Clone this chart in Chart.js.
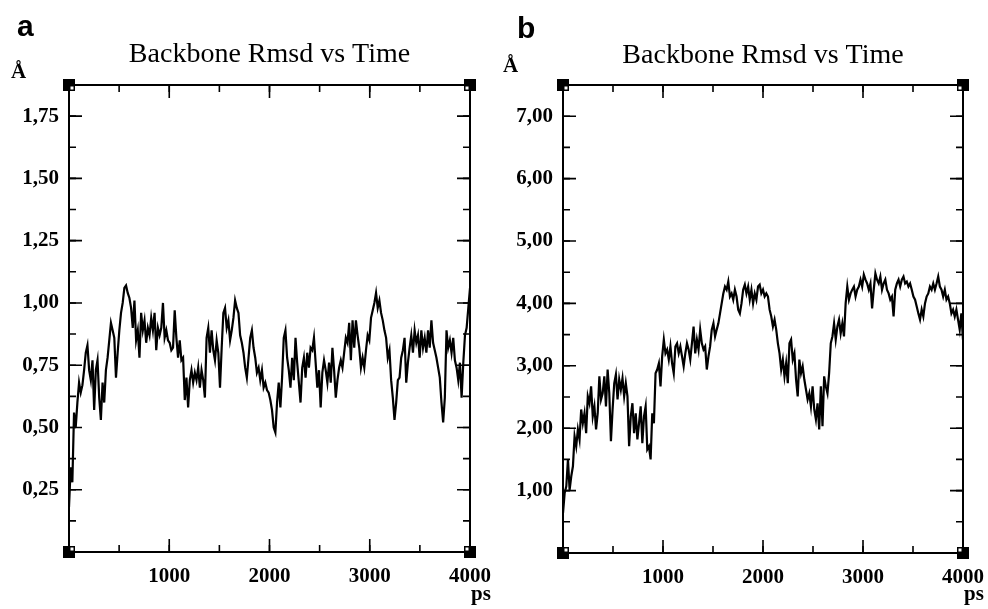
<!DOCTYPE html>
<html>
<head>
<meta charset="utf-8">
<script src="https://cdn.jsdelivr.net/npm/chart.js@4.4.0/dist/chart.umd.min.js"></script>
<style>
  body { margin: 0; background: #fff; }
  .panel { position: absolute; top: 0; width: 494px; height: 609px; }
</style>
</head>
<body>
<div class="panel" style="left:0"><canvas id="chart-a" width="494" height="609"></canvas></div>
<div class="panel" style="left:494px"><canvas id="chart-b" width="494" height="609"></canvas></div>
<script>
const rmsdA = [0.18, 0.34, 0.28, 0.56, 0.50, 0.60, 0.68, 0.64,
  0.67, 0.73, 0.80, 0.83, 0.73, 0.69, 0.77, 0.57, 0.73, 0.77,
  0.62, 0.53, 0.68, 0.60, 0.73, 0.78, 0.85, 0.92, 0.89, 0.86,
  0.70, 0.80, 0.89, 0.96, 1.00, 1.06, 1.07, 1.04, 1.02, 0.98,
  0.90, 1.01, 0.85, 0.89, 0.78, 0.96, 0.89, 0.93, 0.84, 0.90,
  0.87, 0.94, 0.89, 0.96, 0.81, 0.90, 0.87, 0.90, 1.00, 0.86,
  0.89, 0.85, 0.84, 0.81, 0.82, 0.97, 0.86, 0.78, 0.85, 0.77,
  0.78, 0.61, 0.70, 0.58, 0.69, 0.73, 0.68, 0.72, 0.69, 0.74,
  0.66, 0.73, 0.69, 0.62, 0.86, 0.90, 0.80, 0.89, 0.81, 0.77,
  0.85, 0.80, 0.66, 0.82, 0.96, 0.98, 0.90, 0.93, 0.85, 0.89,
  0.94, 1.01, 0.98, 0.96, 0.87, 0.84, 0.80, 0.74, 0.70, 0.78,
  0.86, 0.89, 0.82, 0.78, 0.72, 0.74, 0.69, 0.73, 0.66, 0.68,
  0.65, 0.64, 0.61, 0.57, 0.50, 0.48, 0.60, 0.68, 0.58, 0.70,
  0.86, 0.89, 0.78, 0.73, 0.66, 0.78, 0.69, 0.86, 0.76, 0.68,
  0.60, 0.74, 0.78, 0.70, 0.80, 0.74, 0.82, 0.81, 0.86, 0.76,
  0.66, 0.73, 0.58, 0.72, 0.77, 0.73, 0.68, 0.76, 0.68, 0.82,
  0.73, 0.62, 0.69, 0.74, 0.77, 0.74, 0.80, 0.86, 0.84, 0.92,
  0.77, 0.93, 0.82, 0.93, 0.87, 0.82, 0.74, 0.78, 0.74, 0.81,
  0.87, 0.85, 0.94, 0.97, 1.00, 1.04, 0.98, 1.01, 0.96, 0.93,
  0.89, 0.86, 0.78, 0.81, 0.69, 0.62, 0.53, 0.60, 0.69, 0.70,
  0.78, 0.81, 0.86, 0.68, 0.76, 0.82, 0.87, 0.80, 0.89, 0.84,
  0.87, 0.78, 0.89, 0.82, 0.86, 0.80, 0.89, 0.82, 0.93, 0.84,
  0.81, 0.78, 0.74, 0.70, 0.60, 0.52, 0.62, 0.89, 0.82, 0.85,
  0.80, 0.86, 0.77, 0.74, 0.69, 0.76, 0.62, 0.76, 0.87, 0.90,
  0.98, 1.06];

const rmsdB = [0.64, 0.96, 1.07, 1.50, 1.01, 1.23, 1.39, 1.87, 1.71, 1.98, 1.82,
  2.30, 2.08, 2.24, 1.92, 2.51, 2.40, 2.67, 2.19, 2.35, 1.98,
  2.24, 2.83, 2.46, 2.56, 2.83, 2.35, 2.94, 2.56, 1.79, 2.30,
  2.72, 2.86, 2.46, 2.78, 2.62, 2.80, 2.51, 2.72, 2.51, 1.71,
  2.19, 2.40, 1.92, 2.24, 1.82, 2.08, 2.35, 1.76, 2.19, 2.35,
  1.66, 1.71, 1.50, 2.24, 2.08, 2.88, 2.94, 3.04, 2.67, 3.15,
  3.42, 3.20, 3.26, 3.10, 3.31, 3.04, 2.88, 3.31, 3.36, 3.20,
  3.31, 3.15, 2.99, 3.20, 3.36, 3.26, 3.10, 3.36, 3.63, 3.20,
  3.42, 3.26, 3.58, 3.36, 3.26, 3.31, 2.94, 3.15, 3.31, 3.58,
  3.68, 3.47, 3.58, 3.68, 3.84, 4.00, 4.16, 4.27, 4.22, 4.35,
  4.11, 4.16, 4.06, 4.22, 4.11, 3.90, 3.84, 4.00, 4.22, 4.30,
  4.16, 4.27, 4.06, 4.22, 4.00, 4.16, 4.06, 4.27, 4.30, 4.16,
  4.22, 4.11, 4.16, 4.11, 3.90, 3.79, 3.63, 3.74, 3.58, 3.36,
  3.20, 2.94, 3.10, 2.83, 3.04, 2.72, 3.36, 3.42, 3.10, 3.20,
  2.78, 2.51, 3.10, 2.88, 2.99, 2.78, 2.62, 2.46, 2.56, 2.35,
  2.67, 2.30, 2.14, 2.40, 1.98, 2.67, 2.03, 2.83, 2.67, 2.56,
  2.88, 3.36, 3.47, 3.68, 3.42, 3.63, 3.74, 3.52, 3.68, 3.47,
  4.00, 4.27, 4.06, 4.16, 4.22, 4.27, 4.11, 4.22, 4.27, 4.38,
  4.27, 4.46, 4.38, 4.32, 4.22, 4.32, 3.92, 4.22, 4.48, 4.38,
  4.32, 4.43, 4.22, 4.32, 4.38, 4.22, 4.16, 4.06, 4.11, 3.79,
  4.22, 4.32, 4.38, 4.27, 4.38, 4.43, 4.32, 4.35, 4.27, 4.32,
  4.22, 4.11, 4.06, 3.95, 3.84, 3.74, 3.90, 3.79, 4.00, 4.11,
  4.16, 4.27, 4.22, 4.32, 4.22, 4.32, 4.43, 4.27, 4.22, 4.11,
  4.22, 4.06, 4.11, 4.00, 3.84, 3.90, 3.79, 3.90, 3.74, 3.58,
  3.84, 3.42];

// axis ranges and tick labels
const timeMax = 4000;
const xTickValues = [1000, 2000, 3000, 4000];
const yMaxA = 1.875;
const yTicksA = [0.25, 0.50, 0.75, 1.00, 1.25, 1.50, 1.75];
const yMaxB = 7.5;
const yTicksB = [1, 2, 3, 4, 5, 6, 7];

const chartTitle = 'Backbone Rmsd vs Time';
const yUnit = 'Å';
const xUnit = 'ps';

const tickFont = { family: '"Liberation Serif", "Times New Roman", serif', size: 21, weight: 'bold' };

function toPoints(values) {
  const step = timeMax / (values.length - 1);
  return values.map((v, i) => ({ x: i * step, y: v }));
}

// box frame, inward ticks on all four sides and xmgrace-like corner squares
const framePlugin = {
  id: 'frame',
  afterDatasetsDraw(chart, args, opts) {
    const { ctx, chartArea: a, scales } = chart;
    const x = scales.x, y = scales.y;
    ctx.save();
    ctx.strokeStyle = '#000';

    function tickLines(scale, step, max, len, horizontal) {
      for (let v = step; v < max - 1e-9; v += step) {
        const p = scale.getPixelForValue(v);
        ctx.beginPath();
        if (horizontal) {
          ctx.moveTo(p, a.bottom); ctx.lineTo(p, a.bottom - len);
          ctx.moveTo(p, a.top); ctx.lineTo(p, a.top + len);
        } else {
          ctx.moveTo(a.left, p); ctx.lineTo(a.left + len, p);
          ctx.moveTo(a.right, p); ctx.lineTo(a.right - len, p);
        }
        ctx.stroke();
      }
    }
    ctx.lineWidth = 1.6;
    tickLines(x, opts.minorX, x.max, 7, true);
    tickLines(x, opts.majorX, x.max, 13, true);
    tickLines(y, opts.minorY, y.max, 7, false);
    tickLines(y, opts.majorY, y.max, 13, false);

    ctx.lineWidth = 2;
    ctx.strokeRect(a.left, a.top, a.right - a.left, a.bottom - a.top);

    [[a.left, a.top, 1, 1], [a.right, a.top, -1, 1], [a.left, a.bottom, 1, -1], [a.right, a.bottom, -1, -1]]
      .forEach(([cx, cy, dx, dy]) => {
        ctx.fillStyle = '#000';
        ctx.fillRect(cx - 6, cy - 6, 12, 12);
        ctx.fillStyle = '#fff';
        ctx.fillRect(dx > 0 ? cx + 1.5 : cx - 4.5, dy > 0 ? cy + 1.5 : cy - 4.5, 3, 3);
      });
    ctx.restore();
  }
};

// panel letter, title and unit labels
const labelPlugin = {
  id: 'labels',
  afterDraw(chart, args, o) {
    const { ctx, chartArea: a } = chart;
    ctx.save();
    ctx.fillStyle = '#000';
    ctx.textBaseline = 'alphabetic';

    ctx.font = 'bold 30px "Liberation Sans", Arial, sans-serif';
    ctx.textAlign = 'left';
    ctx.fillText(o.letter, o.letterX, o.letterY);

    ctx.font = '28px "Liberation Serif", "Times New Roman", serif';
    ctx.textAlign = 'center';
    ctx.fillText(chartTitle, (a.left + a.right) / 2, o.titleY);

    ctx.font = 'bold 21px "Liberation Serif", "Times New Roman", serif';
    ctx.textAlign = 'left';
    ctx.fillText(yUnit, o.unitX, o.unitY);
    ctx.textAlign = 'center';
    ctx.fillText(xUnit, a.right + 11, 600);
    ctx.restore();
  }
};

function makeChart(id, values, yMax, yTicks, majorY, minorY, rightPad, bottomPad, labels) {
  const ctx = document.getElementById(id).getContext('2d');
  return new Chart(ctx, {
    type: 'line',
    data: {
      datasets: [{
        label: 'RMSD',
        data: toPoints(values),
        borderColor: '#000',
        borderWidth: 2.2,
        pointRadius: 0,
        tension: 0,
        fill: false
      }]
    },
    options: {
      responsive: false,
      animation: false,
      devicePixelRatio: 1,
      layout: { padding: { top: 85, right: rightPad, bottom: bottomPad, left: 0 } },
      plugins: {
        legend: { display: false },
        tooltip: { enabled: false },
        frame: { majorX: 1000, minorX: 500, majorY: majorY, minorY: minorY },
        labels: labels
      },
      scales: {
        x: {
          type: 'linear',
          min: 0,
          max: timeMax,
          afterBuildTicks: s => { s.ticks = xTickValues.map(v => ({ value: v })); },
          afterFit: s => { s.height = 40; s.paddingLeft = 0; s.paddingRight = 0; },
          ticks: { callback: v => String(v), font: tickFont, color: '#000', padding: 12, maxRotation: 0, autoSkip: false },
          grid: { display: false, drawTicks: false },
          border: { display: false }
        },
        y: {
          type: 'linear',
          min: 0,
          max: yMax,
          afterBuildTicks: s => { s.ticks = yTicks.map(v => ({ value: v })); },
          afterFit: s => { s.width = 69; s.paddingTop = 0; s.paddingBottom = 0; },
          ticks: { callback: v => v.toFixed(2).replace('.', ','), font: tickFont, color: '#000', padding: 10, autoSkip: false },
          grid: { display: false, drawTicks: false },
          border: { display: false }
        }
      }
    },
    plugins: [framePlugin, labelPlugin]
  });
}

makeChart('chart-a', rmsdA, yMaxA, yTicksA, 0.25, 0.125, 24, 17,
  { letter: 'a', letterX: 17, letterY: 36, titleY: 62, unitX: 11, unitY: 78 });
makeChart('chart-b', rmsdB, yMaxB, yTicksB, 1, 0.5, 25, 16,
  { letter: 'b', letterX: 23, letterY: 38, titleY: 63, unitX: 9, unitY: 72 });
</script>
</body>
</html>
